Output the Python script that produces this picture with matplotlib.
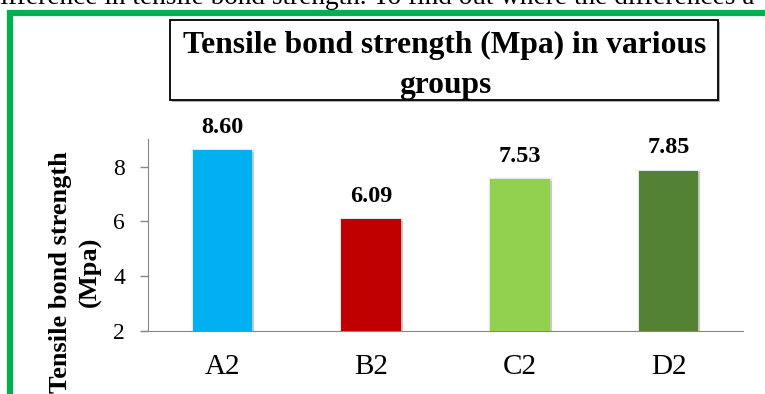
import matplotlib.pyplot as plt
import matplotlib.patheffects as pe
from matplotlib.patches import Rectangle

# Tensile bond strength for each group
groups = ["A2", "B2", "C2", "D2"]
strength = [8.60, 6.09, 7.53, 7.85]
bar_colors = ["#00B0F0", "#C00000", "#92D050", "#548235"]
y_ticks = [2, 4, 6, 8]

plt.rcParams["font.family"] = ["Liberation Serif", "DejaVu Serif"]

W, H = 765, 394
fig = plt.figure(figsize=(W / 100, H / 100), dpi=100)


def fx(px):
    return px / W


def fy(py):
    return 1 - py / H


# running text of the page above the figure frame
fig.text(fx(-13), fy(4), "difference in tensile bond strength. To find out where the differences a",
         fontsize=19.6, ha="left", va="baseline", color="black")

# green frame around the figure
frame = Rectangle((fx(10), fy(H + 20)), fx(W + 20), fy(12.5) - fy(H + 20),
                  transform=fig.transFigure, fill=False,
                  edgecolor="#00B050", linewidth=4.5)
fig.add_artist(frame)

# chart area
ax = fig.add_axes([fx(148), fy(330.7), fx(743) - fx(148), fy(139.3) - fy(330.7)])
x = range(len(groups))
bars = ax.bar(x, strength, width=0.4, bottom=0, color=bar_colors, zorder=3)
for b in bars:
    b.set_path_effects([
        pe.SimplePatchShadow(offset=(1.5, -1.2), shadow_rgbFace="#7F7F7F", alpha=0.35),
        pe.Stroke(linewidth=2.5, foreground="#BFBFBF", alpha=0.35),
        pe.Normal(),
    ])

for xi, v in zip(x, strength):
    ax.annotate(f"{v:.2f}", (xi, v), xytext=(0, 12.5), textcoords="offset points",
                ha="center", va="baseline", fontsize=17.5, fontweight="bold")

ax.set_xlim(-0.5, 3.5)
ax.set_ylim(2, 9)
ax.set_yticks(y_ticks)
ax.set_xticks(list(x))
ax.set_xticklabels(groups)
ax.tick_params(axis="y", length=5.5, width=1, color="#868686", labelsize=17, pad=11)
ax.tick_params(axis="x", length=0, labelsize=21, pad=17)
for side in ["top", "right"]:
    ax.spines[side].set_visible(False)
ax.spines["left"].set_color("#868686")
ax.spines["bottom"].set_color("#868686")
ax.spines["bottom"].set_bounds(-0.55, 3.5)

# y axis title, placed in figure space
fig.text(fx(61), fy(272), "Tensile bond strength", rotation=90, ha="center", va="center",
         fontsize=19, fontweight="bold")
fig.text(fx(90), fy(272), "(Mpa)", rotation=90, ha="center", va="center",
         fontsize=19, fontweight="bold")

# boxed chart title
shadow = Rectangle((fx(172), fy(102)), fx(718) - fx(170), fy(20) - fy(100),
                   transform=fig.transFigure, facecolor="#B0B0B0", edgecolor="none")
fig.add_artist(shadow)
title_box = Rectangle((fx(170), fy(100)), fx(718) - fx(170), fy(20) - fy(100),
                      transform=fig.transFigure, facecolor="white", edgecolor="black", linewidth=1.3)
fig.add_artist(title_box)
fig.text(fx(445), fy(53), "Tensile bond strength (Mpa) in various", ha="center", va="baseline",
         fontsize=22.7, fontweight="bold")
fig.text(fx(445), fy(93), "groups", ha="center", va="baseline",
         fontsize=22.7, fontweight="bold")

fig.savefig("out.png", dpi=100)
